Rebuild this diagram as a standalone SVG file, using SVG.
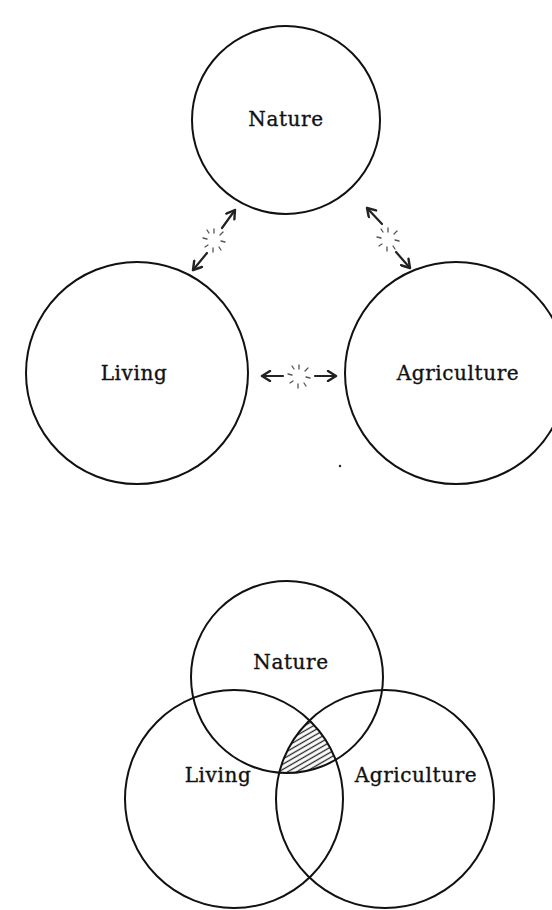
<svg xmlns="http://www.w3.org/2000/svg" width="552" height="910" viewBox="0 0 552 910">
<defs>
<style>
.c{fill:none;stroke:#111;stroke-width:2}
.t{font-family:"DejaVu Serif","Liberation Serif",serif;font-size:20px;letter-spacing:0.6px;fill:#111;stroke:#111;stroke-width:0.35;text-anchor:middle;dominant-baseline:middle}
.a{fill:none;stroke:#222;stroke-width:2.2;stroke-linecap:round;stroke-linejoin:round}
.s{stroke:#555;stroke-width:1.3;stroke-linecap:round}
</style>
<marker id="h" viewBox="0 0 12 12" refX="10" refY="6" markerWidth="12" markerHeight="12" markerUnits="userSpaceOnUse" orient="auto">
<path d="M2,1 L10,6 L2,11" fill="none" stroke="#222" stroke-width="2.4" stroke-linecap="round" stroke-linejoin="round"/>
</marker>
<pattern id="hatch" width="4.5" height="4.5" patternUnits="userSpaceOnUse" patternTransform="rotate(-30)">
<line x1="0" y1="2.25" x2="4.5" y2="2.25" stroke="#222" stroke-width="1.3"/>
</pattern>
<clipPath id="cN"><circle cx="287" cy="677" r="96"/></clipPath>
<clipPath id="cL"><circle cx="234" cy="799" r="109"/></clipPath>
<clipPath id="cA"><circle cx="385" cy="799" r="109"/></clipPath>
<g id="sp">
<line class="s" x1="0" y1="-7" x2="0" y2="-11"/>
<line class="s" x1="6" y1="-5" x2="9" y2="-8"/>
<line class="s" x1="7" y1="1" x2="11" y2="2"/>
<line class="s" x1="5" y1="7" x2="7" y2="10"/>
<line class="s" x1="-1" y1="8" x2="-1" y2="12"/>
<line class="s" x1="-6" y1="5" x2="-9" y2="7"/>
<line class="s" x1="-7" y1="-1" x2="-11" y2="-2"/>
<line class="s" x1="-5" y1="-7" x2="-7" y2="-10"/>
</g>
</defs>
<rect width="552" height="910" fill="#fff"/>

<g id="nature-top"><circle class="c" cx="286" cy="120" r="94"/><text class="t" x="286" y="120">Nature</text></g>
<g id="living-top"><circle class="c" cx="137" cy="373" r="111"/><text class="t" x="134" y="374">Living</text></g>
<g id="agriculture-top"><circle class="c" cx="456" cy="373" r="111"/><text class="t" x="458" y="374">Agriculture</text></g>

<g id="connectors">
<line class="a" x1="222" y1="228" x2="235" y2="210" marker-end="url(#h)"/>
<line class="a" x1="207" y1="253" x2="193" y2="270" marker-end="url(#h)"/>
<use href="#sp" x="214" y="240"/>
<line class="a" x1="382" y1="224" x2="367" y2="208" marker-end="url(#h)"/>
<line class="a" x1="396" y1="252" x2="410" y2="268" marker-end="url(#h)"/>
<use href="#sp" x="388" y="239"/>
<line class="a" x1="283" y1="376" x2="262" y2="376" marker-end="url(#h)"/>
<line class="a" x1="315" y1="376" x2="336" y2="376" marker-end="url(#h)"/>
<use href="#sp" x="299" y="376"/>
</g>
<circle cx="340" cy="466" r="1.2" fill="#222"/>

<g id="overlap">
<g clip-path="url(#cN)"><g clip-path="url(#cL)"><g clip-path="url(#cA)">
<rect x="260" y="700" width="110" height="100" fill="url(#hatch)"/>
</g></g></g>
</g>
<g id="nature-venn"><circle class="c" cx="287" cy="677" r="96"/><text class="t" x="291" y="663">Nature</text></g>
<g id="living-venn"><circle class="c" cx="234" cy="799" r="109"/><text class="t" x="218" y="776">Living</text></g>
<g id="agriculture-venn"><circle class="c" cx="385" cy="799" r="109"/><text class="t" x="416" y="776">Agriculture</text></g>
</svg>
